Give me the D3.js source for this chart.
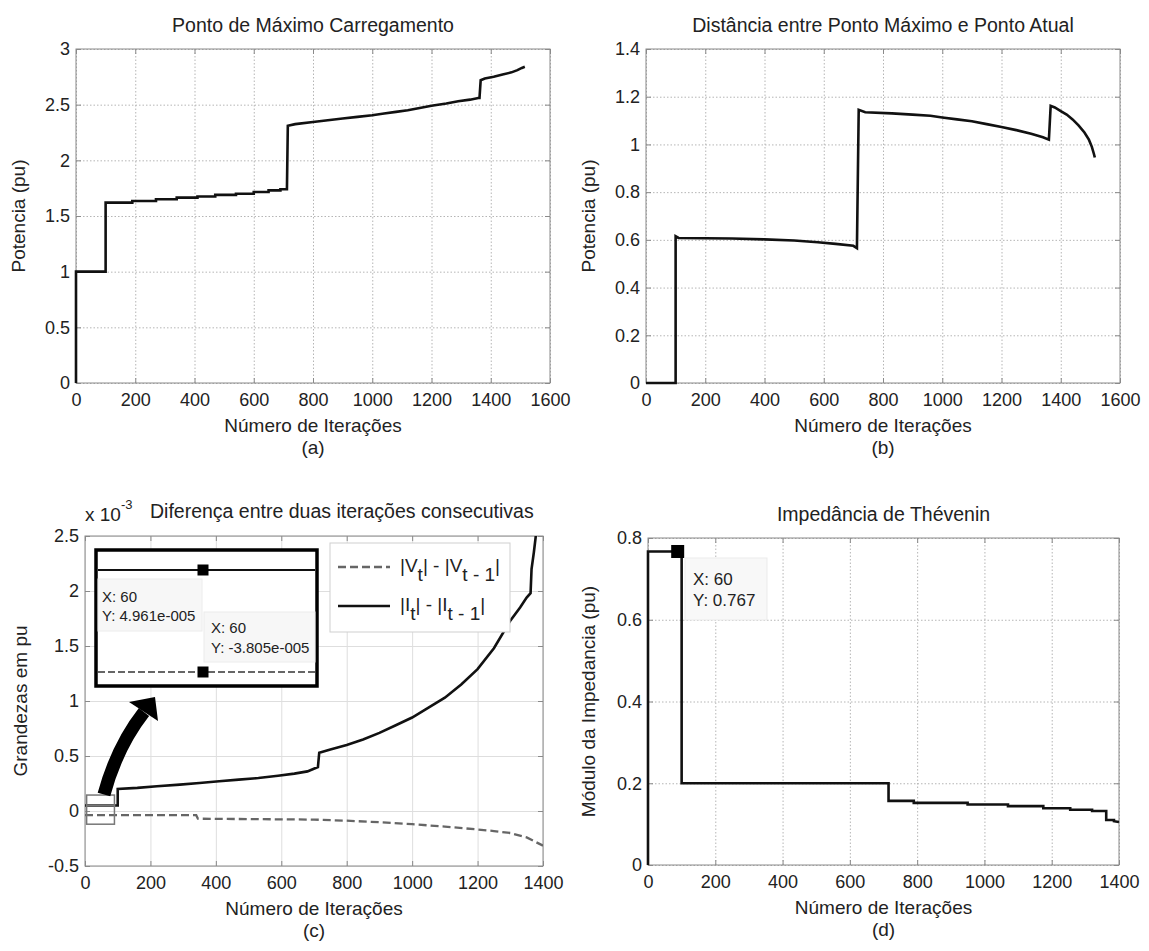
<!DOCTYPE html>
<html>
<head>
<meta charset="utf-8">
<script src="https://cdn.jsdelivr.net/npm/d3@7"></script>
<style>
  body { margin: 0; background: #fff; }
  text { font-family: 'Liberation Sans', Arial, Helvetica, sans-serif; fill: #222; }
</style>
</head>
<body>
<svg id="fig" width="1149" height="951"></svg>
<script>
// ---- data ----
// (a) Ponto de Máximo Carregamento
const aIter  = [0, 0, 100, 100, 190, 190, 270, 270, 340, 340, 410, 410, 470, 470, 540, 540, 600, 600, 650, 650,
                690, 690, 712, 715, 740, 800, 850, 900, 950, 1000, 1040, 1080, 1120, 1160, 1200, 1250, 1290, 1330, 1358, 1362,
                1366, 1380, 1410, 1440, 1470, 1490, 1505, 1515];
const aPower = [0, 1, 1, 1.62, 1.62, 1.635, 1.635, 1.65, 1.65, 1.665, 1.665, 1.675, 1.675, 1.69, 1.69, 1.70, 1.70, 1.715, 1.715, 1.73,
                1.73, 1.74, 1.74, 2.31, 2.325, 2.345, 2.36, 2.375, 2.39, 2.405, 2.42, 2.435, 2.45, 2.47, 2.49, 2.51, 2.53, 2.545, 2.56, 2.56,
                2.72, 2.735, 2.75, 2.77, 2.79, 2.81, 2.83, 2.84];

// (b) Distância entre Ponto Máximo e Ponto Atual
const bIter = [0, 100, 100, 110, 290, 400, 500, 580, 640, 700, 712, 718, 740, 830, 900, 960, 1000, 1050, 1100, 1150,
               1200, 1250, 1300, 1340, 1360, 1366, 1380, 1400, 1420, 1440, 1460, 1480, 1495, 1505, 1512, 1515];
const bDist = [0, 0, 0.615, 0.608, 0.606, 0.602, 0.597, 0.59, 0.583, 0.575, 0.565, 1.145, 1.135, 1.13, 1.125, 1.12, 1.113, 1.105, 1.097, 1.085,
               1.073, 1.06, 1.045, 1.03, 1.02, 1.162, 1.155, 1.14, 1.125, 1.105, 1.08, 1.05, 1.02, 0.99, 0.96, 0.945];

// (c) Diferença entre duas iterações consecutivas (x 10^-3)
const cIterI   = [0, 100, 100, 160, 220, 290, 350, 410, 470, 530, 590, 640, 680, 712, 716, 750, 800, 850, 900, 950,
                  1000, 1050, 1100, 1150, 1200, 1250, 1300, 1330, 1350, 1362, 1365, 1372, 1380];
const cCurrent = [0.0496, 0.0496, 0.2, 0.21, 0.225, 0.24, 0.255, 0.27, 0.285, 0.30, 0.32, 0.34, 0.36, 0.40, 0.53, 0.56, 0.60, 0.65, 0.71, 0.78,
                  0.85, 0.94, 1.03, 1.15, 1.29, 1.48, 1.73, 1.85, 1.94, 1.98, 2.2, 2.35, 2.55];
const cIterV   = [0, 340, 345, 700, 800, 900, 1000, 1100, 1200, 1250, 1300, 1350, 1400];
const cVoltage = [-0.038, -0.038, -0.07, -0.078, -0.088, -0.102, -0.12, -0.142, -0.168, -0.182, -0.2, -0.24, -0.315];

// (d) Impedância de Thévenin
const dIter  = [0, 0, 100, 100, 715, 715, 790, 790, 950, 950, 1070, 1070, 1175, 1175, 1255, 1255, 1320, 1320, 1362, 1362, 1385, 1385, 1400];
const dImped = [0, 0.767, 0.767, 0.2, 0.2, 0.157, 0.157, 0.152, 0.152, 0.148, 0.148, 0.144, 0.144, 0.139, 0.139, 0.135, 0.135, 0.132, 0.132, 0.11, 0.11, 0.107, 0.105];

// ticks
const xTicks1600 = [0, 200, 400, 600, 800, 1000, 1200, 1400, 1600];
const xTicks1400 = [0, 200, 400, 600, 800, 1000, 1200, 1400];
const aYTicks = [0, 0.5, 1, 1.5, 2, 2.5, 3];
const bYTicks = [0, 0.2, 0.4, 0.6, 0.8, 1, 1.2, 1.4];
const cYTicks = [-0.5, 0, 0.5, 1, 1.5, 2, 2.5];
const dYTicks = [0, 0.2, 0.4, 0.6, 0.8];

// data tips
const tipX = 60;
const tipD = 0.767;
const tipCI = 4.961e-5 * 1000;
const tipCV = -3.805e-5 * 1000;

const svg = d3.select('#fig');
const FONT = "'Liberation Sans', Arial, Helvetica, sans-serif";
const fmt = d => String(d);

function drawPanel(p) {
  const x = d3.scaleLinear().domain(p.xDomain).range([p.left, p.right]);
  const y = d3.scaleLinear().domain(p.yDomain).range([p.bottom, p.top]);
  const g = svg.append('g');

  // grid
  const gx = g.append('g').attr('transform', `translate(0,${p.bottom})`)
    .call(d3.axisBottom(x).tickValues(p.xTicks).tickSize(-(p.bottom - p.top)).tickFormat(''));
  const gy = g.append('g').attr('transform', `translate(${p.left},0)`)
    .call(d3.axisLeft(y).tickValues(p.yTicks).tickSize(-(p.right - p.left)).tickFormat(''));
  [gx, gy].forEach(a => {
    a.select('.domain').remove();
    a.selectAll('line').attr('stroke', p.gridColor).attr('stroke-dasharray', p.gridDash);
  });

  // box
  g.append('rect')
    .attr('x', p.left).attr('y', p.top)
    .attr('width', p.right - p.left).attr('height', p.bottom - p.top)
    .attr('fill', 'none').attr('stroke', '#8a8a8a').attr('stroke-width', 1);

  // ticks + labels
  const axes = [
    g.append('g').attr('transform', `translate(0,${p.bottom})`)
      .call(d3.axisBottom(x).tickValues(p.xTicks).tickSize(-5).tickPadding(10).tickFormat(fmt)),
    g.append('g').attr('transform', `translate(${p.left},0)`)
      .call(d3.axisLeft(y).tickValues(p.yTicks).tickSize(-5).tickPadding(6).tickFormat(fmt)),
    g.append('g').attr('transform', `translate(0,${p.top})`)
      .call(d3.axisTop(x).tickValues(p.xTicks).tickSize(-5).tickFormat('')),
    g.append('g').attr('transform', `translate(${p.right},0)`)
      .call(d3.axisRight(y).tickValues(p.yTicks).tickSize(-5).tickFormat(''))
  ];
  axes.forEach(a => {
    a.attr('font-size', 18).attr('font-family', FONT);
    a.select('.domain').remove();
    a.selectAll('line').attr('stroke', '#8a8a8a');
    a.selectAll('text').attr('fill', '#222');
  });

  // titles and labels
  if (p.title) {
    g.append('text').attr('x', (p.left + p.right) / 2).attr('y', p.titleY)
      .attr('text-anchor', 'middle').attr('font-size', 19.5).text(p.title);
  }
  g.append('text').attr('x', (p.left + p.right) / 2).attr('y', p.bottom + 49)
    .attr('text-anchor', 'middle').attr('font-size', 19).text('Número de Iterações');
  g.append('text').attr('x', (p.left + p.right) / 2).attr('y', p.bottom + 71)
    .attr('text-anchor', 'middle').attr('font-size', 19).text(p.letter);
  g.append('text')
    .attr('transform', `translate(${p.yLabelX},${(p.top + p.bottom) / 2}) rotate(-90)`)
    .attr('text-anchor', 'middle').attr('font-size', 19).text(p.yLabel);

  return { x, y, g };
}

const line = (x, y) => d3.line().x(d => x(d[0])).y(d => y(d[1]));

// ---------- (a) ----------
const pa = drawPanel({
  left: 76, right: 550, top: 49, bottom: 383,
  xDomain: [0, 1600], yDomain: [0, 3], xTicks: xTicks1600, yTicks: aYTicks,
  gridColor: '#b5b5b5', gridDash: '1.5,2',
  title: 'Ponto de Máximo Carregamento', titleY: 32,
  letter: '(a)', yLabel: 'Potencia (pu)', yLabelX: 25
});
pa.g.append('path').datum(d3.zip(aIter, aPower))
  .attr('d', line(pa.x, pa.y)).attr('fill', 'none')
  .attr('stroke', '#111').attr('stroke-width', 2.6).attr('stroke-linejoin', 'miter');

// ---------- (b) ----------
const pb = drawPanel({
  left: 646, right: 1120, top: 49, bottom: 383,
  xDomain: [0, 1600], yDomain: [0, 1.4], xTicks: xTicks1600, yTicks: bYTicks,
  gridColor: '#b5b5b5', gridDash: '1.5,2',
  title: 'Distância entre Ponto Máximo e Ponto Atual', titleY: 32,
  letter: '(b)', yLabel: 'Potencia (pu)', yLabelX: 595
});
pb.g.append('path').datum(d3.zip(bIter, bDist))
  .attr('d', line(pb.x, pb.y)).attr('fill', 'none')
  .attr('stroke', '#111').attr('stroke-width', 2.6);

// ---------- (c) ----------
const pc = drawPanel({
  left: 85, right: 543, top: 536, bottom: 866,
  xDomain: [0, 1400], yDomain: [-0.5, 2.5], xTicks: xTicks1400, yTicks: cYTicks,
  gridColor: '#dedede', gridDash: null,
  title: null, letter: '(c)', yLabel: 'Grandezas em pu', yLabelX: 27
});
{
  const { x, y, g } = pc;
  // title with exponent
  g.append('text').attr('x', 85).attr('y', 521).attr('font-size', 19)
    .text('x 10').append('tspan').attr('dy', -12).attr('font-size', 13).text('-3');
  g.append('text').attr('x', 150).attr('y', 518).attr('font-size', 19.5)
    .text('Diferença entre duas iterações consecutivas');

  svg.append('clipPath').attr('id', 'clipC').append('rect')
    .attr('x', 85).attr('y', 536).attr('width', 458).attr('height', 330);

  g.append('path').datum(d3.zip(cIterV, cVoltage))
    .attr('d', line(x, y)).attr('fill', 'none').attr('clip-path', 'url(#clipC)')
    .attr('stroke', '#666').attr('stroke-width', 2.3).attr('stroke-dasharray', '8,4');
  g.append('path').datum(d3.zip(cIterI, cCurrent))
    .attr('d', line(x, y)).attr('fill', 'none').attr('clip-path', 'url(#clipC)')
    .attr('stroke', '#111').attr('stroke-width', 2.6);

  // zoom rectangles around the start of both curves
  g.append('rect').attr('x', x(5)).attr('y', y(0.145))
    .attr('width', x(90) - x(5)).attr('height', y(0.052) - y(0.145))
    .attr('fill', 'none').attr('stroke', '#777').attr('stroke-width', 1.5);
  g.append('rect').attr('x', x(5)).attr('y', y(0.048))
    .attr('width', x(90) - x(5)).attr('height', y(-0.12) - y(0.048))
    .attr('fill', 'none').attr('stroke', '#777').attr('stroke-width', 1.5);

  // curved arrow
  const sx = x(58), sy = y(0.15);
  const ex = 144, ey = 712;
  g.append('path')
    .attr('d', `M${sx},${sy} Q${sx + 13},${sy - 48} ${ex},${ey}`)
    .attr('fill', 'none').attr('stroke', '#000').attr('stroke-width', 13);
  g.append('path')
    .attr('d', `M${ex - 15},${ey - 10} L${ex + 11},${ey - 15} L${ex + 14},${ey + 9} Z`)
    .attr('fill', '#000');

  // inset (zoomed view)
  const ix0 = 96, ix1 = 317, iy0 = 550, iy1 = 686;
  g.append('rect').attr('x', ix0).attr('y', iy0).attr('width', ix1 - ix0).attr('height', iy1 - iy0)
    .attr('fill', '#fff').attr('stroke', '#000').attr('stroke-width', 3.5);
  const solidY = 570, dashY = 672, mx = 203;
  g.append('rect').attr('x', 98).attr('y', 579).attr('width', 104).attr('height', 52)
    .attr('fill', '#f7f7f7').attr('stroke', '#ececec');
  g.append('rect').attr('x', 204).attr('y', 612).attr('width', 111).attr('height', 50)
    .attr('fill', '#f7f7f7').attr('stroke', '#ececec');
  g.append('line').attr('x1', ix0 + 2).attr('x2', ix1 - 2).attr('y1', solidY).attr('y2', solidY)
    .attr('stroke', '#111').attr('stroke-width', 2);
  g.append('line').attr('x1', ix0 + 2).attr('x2', ix1 - 2).attr('y1', dashY).attr('y2', dashY)
    .attr('stroke', '#666').attr('stroke-width', 2).attr('stroke-dasharray', '7,3');
  [solidY, dashY].forEach(yy => {
    g.append('rect').attr('x', mx - 5.5).attr('y', yy - 5.5).attr('width', 11).attr('height', 11)
      .attr('fill', '#000');
  });
  g.append('text').attr('x', 102).attr('y', 602).attr('font-size', 15).text(`X: ${tipX}`);
  g.append('text').attr('x', 102).attr('y', 621).attr('font-size', 15).text(`Y: ${(tipCI / 1000).toExponential(3).replace('e-5', 'e-005')}`);
  g.append('text').attr('x', 211).attr('y', 633).attr('font-size', 15).text(`X: ${tipX}`);
  g.append('text').attr('x', 211).attr('y', 653).attr('font-size', 15).text(`Y: ${(tipCV / 1000).toExponential(3).replace('e-5', 'e-005')}`);

  // legend
  g.append('rect').attr('x', 330).attr('y', 543).attr('width', 180).attr('height', 89)
    .attr('fill', '#fff').attr('stroke', '#cfcfcf');
  const legend = [
    { y: 567, dash: '8,4', color: '#666', base: 'V' },
    { y: 606, dash: null, color: '#111', base: 'I' }
  ];
  legend.forEach(l => {
    g.append('line').attr('x1', 338).attr('x2', 390).attr('y1', l.y).attr('y2', l.y)
      .attr('stroke', l.color).attr('stroke-width', 2.3).attr('stroke-dasharray', l.dash);
    const t = g.append('text').attr('x', 400).attr('y', l.y + 5).attr('font-size', 19);
    t.append('tspan').text('|' + l.base);
    t.append('tspan').attr('dy', 9).text('t');
    t.append('tspan').attr('dy', -9).text('| - |' + l.base);
    t.append('tspan').attr('dy', 9).text('t - 1');
    t.append('tspan').attr('dy', -9).text('|');
  });
}

// ---------- (d) ----------
const pd = drawPanel({
  left: 648, right: 1119, top: 538, bottom: 865,
  xDomain: [0, 1400], yDomain: [0, 0.8], xTicks: xTicks1400, yTicks: dYTicks,
  gridColor: '#b5b5b5', gridDash: '1.5,2',
  title: 'Impedância de Thévenin', titleY: 521,
  letter: '(d)', yLabel: 'Módulo da Impedancia (pu)', yLabelX: 595
});
{
  const { x, y, g } = pd;
  g.append('path').datum(d3.zip(dIter, dImped))
    .attr('d', line(x, y)).attr('fill', 'none')
    .attr('stroke', '#111').attr('stroke-width', 2.6);
  g.append('rect').attr('x', x(tipX) + 3).attr('y', y(tipD) - 6.5).attr('width', 13).attr('height', 13)
    .attr('fill', '#000');
  g.append('rect').attr('x', 685).attr('y', 558).attr('width', 82).attr('height', 62)
    .attr('fill', '#f8f8f8').attr('stroke', '#ebebeb');
  g.append('text').attr('x', 693).attr('y', 585).attr('font-size', 17).text(`X: ${tipX}`);
  g.append('text').attr('x', 693).attr('y', 606).attr('font-size', 17).text(`Y: ${tipD}`);
}
</script>
</body>
</html>
